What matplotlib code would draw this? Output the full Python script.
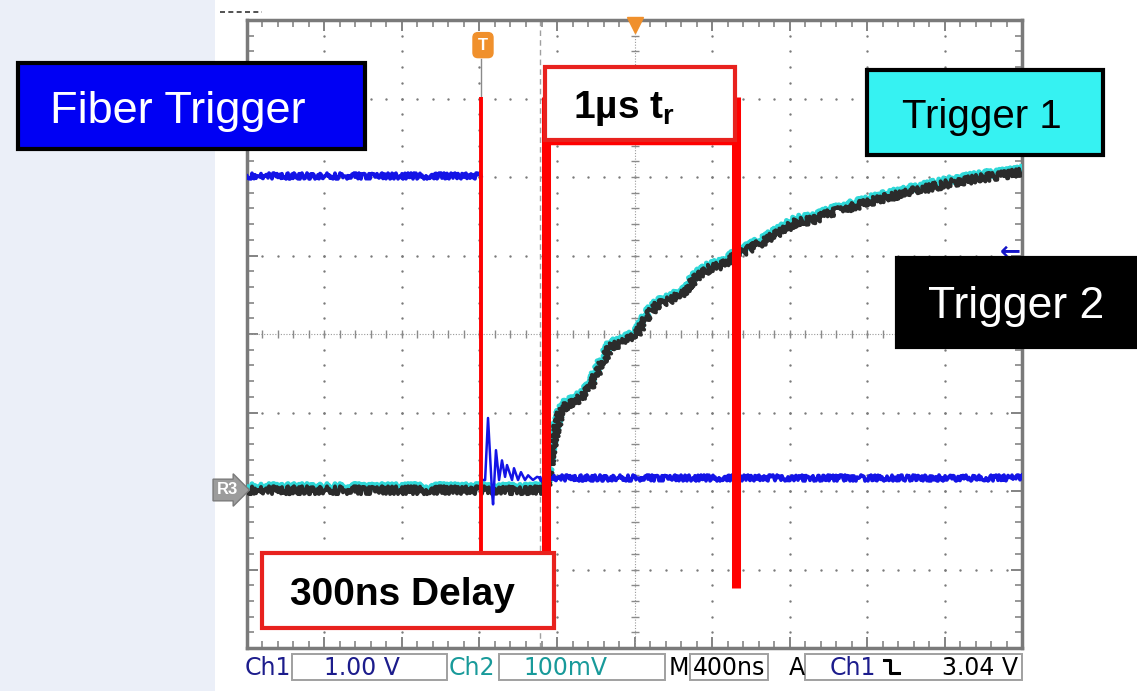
import numpy as np
import matplotlib.pyplot as plt
from matplotlib.patches import Rectangle
from matplotlib.lines import Line2D

plt.rcParams['font.family'] = ['Liberation Sans', 'DejaVu Sans']
plt.rcParams['mathtext.fontset'] = 'custom'
plt.rcParams['mathtext.rm'] = 'Liberation Sans'
plt.rcParams['mathtext.bf'] = 'Liberation Sans:bold'

# scope settings: 400 ns/div, trigger 3.02 div from the left edge
ns_per_div = 400
t_left = -1208
t_right = 2792

# Ch1 - fiber trigger (time in ns, level in divisions)
ch1_high_t = [-1208, 0]
ch1_high_y = [2.01, 2.01]
ch1_ring_t = [0, 0, 21, 36, 57, 62, 77, 93, 108, 124, 134, 160, 170,
              191, 206, 227, 243, 268, 289, 304]
ch1_ring_y = [2.01, -1.86, -1.86, -1.07, -2.03, -2.17, -1.48, -1.86, -1.61,
              -1.82, -1.67, -1.86, -1.71, -1.86, -1.76, -1.86, -1.80, -1.86, -1.82,
              -1.83]
ch1_low_t = [304, 2792]
ch1_low_y = [-1.83, -1.83]

# Ch2 (Trigger 1, cyan) and R3 (Trigger 2, black)
trig_t = [-1208, 335, 372, 408, 444, 511, 562, 614, 666, 733, 805, 857, 908,
          975, 1042, 1115, 1182, 1249, 1300, 1373, 1455, 1558, 1631, 1713,
          1801, 1904, 2043, 2250, 2420, 2590, 2792]
trig1_y = [-1.95, -1.95, -1.33, -0.96, -0.85, -0.78, -0.63, -0.36, -0.12,
           -0.07, 0.04, 0.27, 0.41, 0.47, 0.56, 0.78, 0.88, 0.92, 1.02, 1.11,
           1.21, 1.37, 1.47, 1.49, 1.58, 1.65, 1.75, 1.87, 1.96, 2.03, 2.09]
trig2_y = [-1.99, -1.99, -1.39, -1.01, -0.90, -0.82, -0.68, -0.42, -0.17,
           -0.11, -0.01, 0.22, 0.37, 0.43, 0.52, 0.73, 0.84, 0.88, 0.98, 1.07,
           1.17, 1.32, 1.43, 1.45, 1.54, 1.61, 1.71, 1.83, 1.92, 1.99, 2.06]

# marker times (ns): trigger, start of rise, end of 1us rise
t_trig = 0
t_rise0 = 335
t_rise1 = 1316
t_cursor = 304

status = ['Ch1', '1.00 V', 'Ch2', '100mV', 'M', '400ns', 'A', 'Ch1', '3.04 V']

W, H = 1137, 691
fig = plt.figure(figsize=(W / 100, H / 100), dpi=100)
fig.patch.set_facecolor('white')


def fx(x):
    return x / W


def fy(y):
    return 1 - y / H


def fig_rect(x0, y0, x1, y1, **kw):
    fig.patches.append(Rectangle((fx(x0), fy(y1)), fx(x1) - fx(x0), fy(y0) - fy(y1),
                                 transform=fig.transFigure, **kw))


# light panel on the left
fig_rect(0, 0, 215, 691, fc='#ebeff8', ec='none', zorder=0)
fig.lines.append(Line2D([fx(220), fx(262)], [fy(12), fy(12)], transform=fig.transFigure,
                        color='#333333', lw=1.2, ls=(0, (3, 2))))

ax = fig.add_axes([fx(247), fy(648), 775 / W, 628 / H])
ax.set_xlim(t_left, t_right)
ax.set_ylim(-4, 4)

# graticule
grid_t = t_left + ns_per_div * np.arange(11)
fine_t = t_left + 80 * np.arange(51)
fine_y = np.arange(-4, 4.01, 0.2)
for k in range(1, 10):
    if k != 5:
        ax.scatter(np.full(fine_y.size, grid_t[k]), fine_y, s=3, color='#7a7a7a', lw=0)
for j in [-3, -2, -1, 1, 2, 3]:
    ax.scatter(fine_t, np.full(fine_t.size, j), s=3, color='#7a7a7a', lw=0)
ax.plot([grid_t[5]] * 2, [-4, 4], color='#9a9a9a', lw=0.8, ls=(0, (1, 1.5)))
ax.plot([t_left, t_right], [0, 0], color='#9a9a9a', lw=0.8, ls=(0, (1, 1.5)))
ax.plot(np.full(fine_y.size, grid_t[5]), fine_y, ls='none', marker='_', ms=6,
        color='#8a8a8a', mew=1)
ax.plot(fine_t, np.zeros(fine_t.size), ls='none', marker='|', ms=6,
        color='#8a8a8a', mew=1)
ax.plot([t_cursor] * 2, [-4, 4], color='#a0a0a0', lw=1, ls=(0, (4, 3)))

ax.set_xticks(grid_t)
ax.set_xticks(fine_t, minor=True)
ax.set_yticks(np.arange(-4, 5))
ax.set_yticks(fine_y, minor=True)
ax.tick_params(which='both', direction='in', top=True, right=True,
               labelbottom=False, labelleft=False, color='#7a7a7a')
ax.tick_params(which='major', length=8, width=1.3)
ax.tick_params(which='minor', length=5, width=1.1)
for s in ax.spines.values():
    s.set_color('#7a7a7a')
    s.set_linewidth(2.5)

# traces (sketch gives the noisy look of the scope traces)
l1 = ax.plot(trig_t, trig1_y, color='#2fd8d8', lw=3.6, zorder=3)[0]
l1.set_sketch_params(3.5, 2.5, 3)
l2 = ax.plot(trig_t, trig2_y, color='#2b2b2b', lw=2.8, zorder=4)[0]
l2.set_sketch_params(4, 2.5, 3)
blue = '#1414e6'
for tt, yy in [(ch1_high_t, ch1_high_y), (ch1_low_t, ch1_low_y)]:
    ln = ax.plot(tt, yy, color=blue, lw=2.6, zorder=5)[0]
    ln.set_sketch_params(3, 2.5, 3)
ax.plot(ch1_ring_t, ch1_ring_y, color=blue, lw=1.8, zorder=5)

# trigger marker and position marker
ax.plot([t_trig] * 2, [3.5, 3.02], color='#8a8a8a', lw=1)
ax.text(t_trig + 10, 3.68, 'T', color='white', fontsize=12, fontweight='bold',
        ha='center', va='center',
        bbox=dict(boxstyle='round,pad=0.3', fc='#f0902c', ec='#f0902c'))
ax.plot(grid_t[5], 3.93, marker='v', ms=11, color='#f0902c', clip_on=False, zorder=6)
ax.text(t_right - 4, 1.04, '\u2190', color='#1414c8', fontsize=18, fontweight='bold',
        ha='right', va='center', family='DejaVu Sans')

# red annotation lines
red = '#ff0000'
ax.plot([t_trig] * 2, [3.02, -2.79], color=red, lw=2.8, solid_capstyle='butt', zorder=7)
ax.plot([t_rise0] * 2, [3.02, -2.79], color=red, lw=6.5, solid_capstyle='butt', zorder=7)
ax.plot([t_rise1] * 2, [3.02, -3.24], color=red, lw=6.5, solid_capstyle='butt', zorder=7)
ax.plot([t_rise0, t_rise1], [2.43, 2.43], color=red, lw=2.5, zorder=7)

# annotation boxes
fig_rect(545, 67, 735, 140, fc='white', ec='#e8221e', lw=3, zorder=10)
fig.text(fx(573), fy(118), r'1µs t$_\mathbf{r}$', fontsize=28, fontweight='bold',
         color='black', ha='left', va='baseline', zorder=11)
fig_rect(262, 553, 554, 628, fc='white', ec='#e8221e', lw=3, zorder=10)
fig.text(fx(290), fy(605), '300ns Delay', fontsize=28, fontweight='bold',
         color='black', ha='left', va='baseline', zorder=11)

fig_rect(18, 63, 365, 149, fc='#0000f4', ec='black', lw=3, zorder=10)
fig.text(fx(50), fy(123), 'Fiber Trigger', fontsize=32.5, color='white',
         ha='left', va='baseline', zorder=11)
fig_rect(867, 70, 1103, 155, fc='#36f2f2', ec='black', lw=3, zorder=10)
fig.text(fx(982), fy(128), 'Trigger 1', fontsize=29, color='black',
         ha='center', va='baseline', zorder=11)
fig_rect(897, 258, 1145, 347, fc='black', ec='black', lw=3, zorder=10)
fig.text(fx(1016), fy(318), 'Trigger 2', fontsize=32, color='white',
         ha='center', va='baseline', zorder=11)

# R3 reference marker
fig.text(fx(227), fy(490), 'R3', color='white', fontsize=12, fontweight='bold',
         ha='center', va='center',
         bbox=dict(boxstyle='rarrow,pad=0.2', fc='#9c9c9c', ec='#7a7a7a'), zorder=11)

# status bar
for x0, x1 in [(292, 447), (499, 665), (690, 768), (805, 1022)]:
    fig_rect(x0, 654, x1, 680, fc='white', ec='#a0a0a0', lw=1.4, zorder=5)
navy = '#1c1c8c'
teal = '#189a9a'
sb = dict(fontsize=17, va='baseline', family=['Liberation Sans Narrow', 'DejaVu Sans'], zorder=6)
fig.text(fx(245), fy(675), status[0], color=navy, ha='left', **sb)
fig.text(fx(362), fy(675), status[1], color=navy, ha='center', **sb)
fig.text(fx(449), fy(675), status[2], color=teal, ha='left', **sb)
fig.text(fx(565), fy(675), status[3], color=teal, ha='center', **sb)
fig.text(fx(669), fy(675), status[4], color='black', ha='left', **sb)
fig.text(fx(729), fy(675), status[5], color='black', ha='center', **sb)
fig.text(fx(789), fy(675), status[6], color='black', ha='left', **sb)
fig.text(fx(830), fy(675), status[7], color=navy, ha='left', **sb)
# falling-edge trigger slope symbol
fig.lines.append(Line2D([fx(884), fx(890), fx(890), fx(899)],
                        [fy(660), fy(660), fy(673), fy(673)],
                        transform=fig.transFigure, color='black', lw=2.2, zorder=7))
fig.text(fx(1018), fy(675), status[8], color='black', ha='right', **sb)

fig.savefig('out.png', dpi=100)
